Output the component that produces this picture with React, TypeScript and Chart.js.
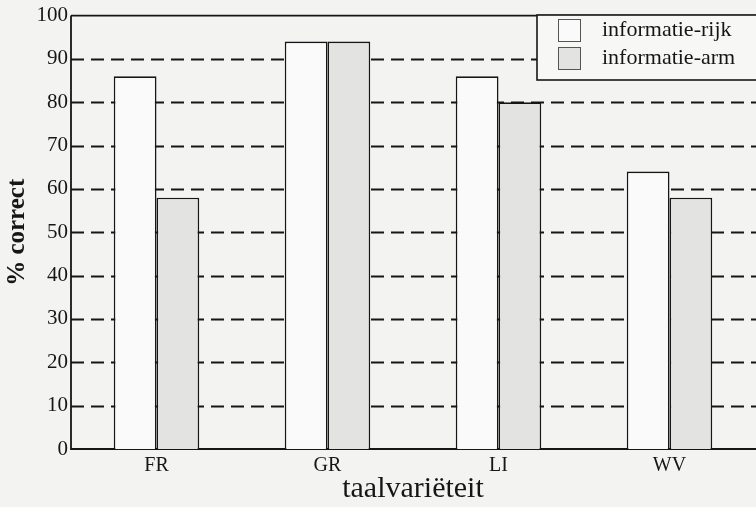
import React, { useEffect, useRef } from "react";
import { Chart, registerables } from "chart.js";

Chart.register(...registerables);

const categories = ["FR", "GR", "LI", "WV"];
const rijkValues = [86, 94, 86, 64];
const armValues = [58, 94, 80, 58];
const seriesNames = ["informatie-rijk", "informatie-arm"];
const gridValues = [10, 20, 30, 40, 50, 60, 70, 80, 90];

const SERIF = "'Liberation Serif', 'DejaVu Serif', serif";
const INK = "#161616";
const RIJK_FILL = "#fafafa";
const ARM_FILL = "#e3e3e1";
const PAGE = "#f3f3f1";

const framePlugin = {
  id: "frame",
  beforeDraw(chart: any) {
    const { ctx, width, height } = chart;
    ctx.save();
    ctx.fillStyle = PAGE;
    ctx.fillRect(0, 0, width, height);
    ctx.restore();
  },
  beforeDatasetsDraw(chart: any) {
    const { ctx, chartArea } = chart;
    const y = chart.scales.y;
    ctx.save();
    ctx.strokeStyle = INK;
    ctx.lineWidth = 2;
    ctx.setLineDash([13, 7]);
    for (const v of gridValues) {
      const py = Math.round(y.getPixelForValue(v)) + 0.5;
      ctx.beginPath();
      ctx.moveTo(chartArea.left, py);
      ctx.lineTo(chartArea.right + 5, py);
      ctx.stroke();
    }
    ctx.setLineDash([]);
    ctx.lineWidth = 1.8;
    const top = y.getPixelForValue(100);
    const bottom = y.getPixelForValue(0);
    ctx.beginPath();
    ctx.moveTo(chartArea.left, top);
    ctx.lineTo(chartArea.right + 5, top);
    ctx.moveTo(chartArea.left, top);
    ctx.lineTo(chartArea.left, bottom);
    ctx.lineTo(chartArea.right + 5, bottom);
    ctx.stroke();
    ctx.restore();
  },
  afterDraw(chart: any) {
    const { ctx } = chart;
    const x0 = 537;
    const y0 = 15;
    ctx.save();
    ctx.fillStyle = "#f7f7f6";
    ctx.strokeStyle = INK;
    ctx.lineWidth = 1.6;
    ctx.fillRect(x0, y0, 260, 65);
    ctx.strokeRect(x0, y0, 260, 65);
    const fills = [RIJK_FILL, ARM_FILL];
    ctx.font = `22px ${SERIF}`;
    ctx.textBaseline = "middle";
    ctx.textAlign = "left";
    seriesNames.forEach((name, i) => {
      const sy = 19 + i * 28;
      ctx.fillStyle = fills[i];
      ctx.fillRect(558, sy, 22, 22);
      ctx.lineWidth = 1;
      ctx.strokeStyle = "#555";
      ctx.strokeRect(558.5, sy + 0.5, 22, 22);
      ctx.fillStyle = INK;
      ctx.fillText(name, 602, sy + 11);
    });
    ctx.restore();
  },
};

export default function App() {
  const ref = useRef<HTMLCanvasElement | null>(null);

  useEffect(() => {
    document.body.style.margin = "0";
    if (!ref.current) return;
    const chart = new Chart(ref.current, {
      type: "bar",
      data: {
        labels: categories,
        datasets: [
          {
            label: seriesNames[0],
            data: rijkValues,
            backgroundColor: RIJK_FILL,
            borderColor: INK,
            borderWidth: 1.6,
          },
          {
            label: seriesNames[1],
            data: armValues,
            backgroundColor: ARM_FILL,
            borderColor: INK,
            borderWidth: 1.6,
          },
        ],
      },
      options: {
        responsive: false,
        animation: false,
        layout: { padding: { top: 14, right: 1, left: 0, bottom: 0 } },
        plugins: {
          legend: { display: false },
          tooltip: { enabled: false },
        },
        datasets: { bar: { categoryPercentage: 0.5, barPercentage: 1.0 } },
        scales: {
          x: {
            grid: { display: false, drawTicks: false },
            border: { display: false },
            ticks: { color: INK, font: { family: SERIF, size: 20 }, padding: 5 },
            title: {
              display: true,
              text: "taalvariëteit",
              color: INK,
              font: { family: SERIF, size: 30 },
              padding: { top: 0, bottom: 0 },
            },
            afterFit(scale: any) {
              scale.height = 58;
            },
          },
          y: {
            min: 0,
            max: 100,
            grid: { display: false, drawTicks: false },
            border: { display: false },
            ticks: {
              stepSize: 10,
              color: INK,
              font: { family: SERIF, size: 21 },
              padding: 3,
            },
            title: {
              display: true,
              text: "% correct",
              color: INK,
              font: { family: SERIF, size: 25, weight: "bold" },
              padding: { top: 3, bottom: 0 },
            },
            afterFit(scale: any) {
              scale.width = 71;
            },
          },
        },
      },
      plugins: [framePlugin],
    } as any);
    return () => chart.destroy();
  }, []);

  return <canvas ref={ref} width={756} height={507} style={{ display: "block" }} />;
}
